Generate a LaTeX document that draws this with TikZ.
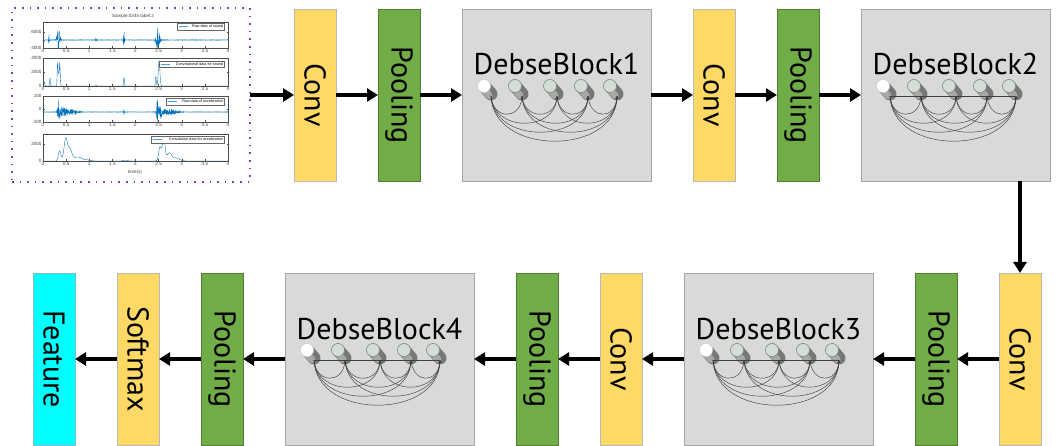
\documentclass[tikz,border=0pt]{standalone}
\usepackage{fontspec}
\setmainfont{PT Sans}
\newfontfamily\plotfont{Liberation Sans}
\usetikzlibrary{arrows.meta,calc}

\definecolor{convyellow}{HTML}{FFD966}
\definecolor{convedge}{HTML}{B8B8B8}
\definecolor{poolgreen}{HTML}{70AD47}
\definecolor{pooledge}{HTML}{507E32}
\definecolor{blockgray}{HTML}{D9D9D9}
\definecolor{blockedge}{HTML}{A6A6A6}
\definecolor{featcyan}{HTML}{00FFFF}
\definecolor{featedge}{HTML}{7FBFBF}
\definecolor{mblue}{HTML}{0072BD}
\definecolor{legblue}{HTML}{4F9FD8}
\definecolor{dotpurple}{HTML}{7F3FBF}
\definecolor{cylbody}{HTML}{777777}
\definecolor{cylshine}{HTML}{A8A8A8}
\definecolor{facegray}{HTML}{D6DCD6}
\definecolor{faceedge}{HTML}{6A8A78}

% bounded gaussian bump: gb(t, centre, width)
\pgfmathdeclarefunction{gb}{3}{%
  \pgfmathparse{exp(0-pow(min(abs((#1-(#2))/(#3)),5),2))}%
}
% envelopes of the four traces (in pixels)
\pgfmathdeclarefunction{sndraw}{1}{%
  \pgfmathparse{0.25+10*gb(#1,0.01,0.012)+9*gb(#1,0.13,0.01)+13*gb(#1,0.335,0.035)+2.5*gb(#1,1.14,0.012)+9*gb(#1,1.75,0.015)+13*gb(#1,2.49,0.045)}%
}
\pgfmathdeclarefunction{sndconv}{1}{%
  \pgfmathparse{4*gb(#1,0.03,0.012)+8*gb(#1,0.15,0.012)+21*gb(#1,0.315,0.012)+21*gb(#1,0.365,0.012)+12*gb(#1,0.34,0.02)+1*gb(#1,1.15,0.01)+9*gb(#1,1.75,0.012)+10*gb(#1,2.44,0.012)+25*gb(#1,2.51,0.025)}%
}
\pgfmathdeclarefunction{accraw}{1}{%
  \pgfmathparse{0.2+1.5*gb(#1,0.0,0.01)+11*gb(#1,0.34,0.025)+5*gb(#1,0.42,0.08)+2*gb(#1,0.6,0.15)+3*gb(#1,1.75,0.01)+14*gb(#1,2.47,0.02)+6*gb(#1,2.55,0.07)+2.5*gb(#1,2.75,0.15)}%
}
\pgfmathdeclarefunction{accconv}{1}{%
  \pgfmathparse{10*gb(#1,0.36,0.04)+22*gb(#1,0.49,0.05)+12*gb(#1,0.58,0.06)+4*gb(#1,0.75,0.12)+1*gb(#1,0.95,0.1)+0.8*gb(#1,1.78,0.06)+14*gb(#1,2.53,0.04)+23*gb(#1,2.61,0.04)+8*gb(#1,2.73,0.07)+3*gb(#1,2.88,0.1)}%
}

% cylinders and dense links inside a dense block
\newcommand\denseunit[2]{%
  \foreach \k/\dx in {1/22,2/53,3/88,4/119,5/148}{%
    \coordinate (#1-c\k) at ($(#1.north west)+(\dx,77)$);
    \coordinate (#1-e\k) at ($(#1-c\k)+(7,10)$);
  }
  \foreach \k in {1,...,5}{%
    \draw[cylbodyline] (#1-c\k) -- ++(7,8);
    \draw[cylshineline] ($(#1-c\k)+(-1.9,1.6)$) -- ++(7,8);
  }
  \draw[cylface, fill=white, draw=white!85!black] (#1-c1) circle[radius=6.5pt];
  \foreach \k in {2,...,5}{%
    \draw[cylface, fill=facegray] (#1-c\k) circle[radius=6.5pt];
  }
  \ifnum#2=1 \draw[dlinkline] (#1-e1) -- (#1-e5);\fi
  \foreach \i/\j in {1/2,1/3,1/4,1/5,2/3,2/4,2/5,3/4,3/5,4/5}{%
    \pgfmathsetmacro\h{12+12*(\j-\i)}
    \draw[dlink] (#1-e\i) .. controls +(2,\h) and +(-2,\h) .. (#1-e\j);
  }
}

\begin{document}
\begin{tikzpicture}[x=1pt, y=-1pt,
  labelfont/.style={font=\fontsize{30}{32}\selectfont},
  vbox/.style={draw, rotate=-90, minimum width=172pt, minimum height=42pt,
    inner sep=0pt, outer sep=0pt, line width=0.6pt, labelfont},
  convbox/.style={vbox, fill=convyellow, draw=convedge},
  poolbox/.style={vbox, fill=poolgreen, draw=pooledge},
  featbox/.style={vbox, fill=featcyan, draw=featedge},
  dbbox/.style={draw=blockedge, fill=blockgray, minimum width=189pt,
    minimum height=172pt, inner sep=0pt, outer sep=0pt, line width=0.6pt},
  dbtitle/.style={anchor=base, inner sep=0pt, labelfont},
  flow/.style={line width=4pt, -{Triangle[length=11pt,width=13pt]}},
  cylbodyline/.style={line width=13pt, line cap=round, draw=cylbody},
  cylshineline/.style={line width=7pt, line cap=round, draw=cylshine},
  cylface/.style={line width=0.5pt, draw=faceedge},
  dlinkline/.style={line width=0.45pt, draw=black!75},
  dlink/.style={dlinkline, -{Stealth[length=3pt,width=2.6pt]}},
  axisline/.style={line width=0.35pt, draw=black!70},
  ticklab/.style={inner sep=0.3pt, font=\plotfont\fontsize{4.6}{5}\selectfont, text=black!75},
  legbox/.style={draw=black!60, fill=white, line width=0.3pt},
  legtext/.style={anchor=east, inner sep=0.4pt, font=\plotfont\fontsize{3.7}{4}\selectfont},
  trace/.style={draw=mblue, line width=0.35pt}
]
\useasboundingbox (0,0) rectangle (1057,446);

% ---------- signal panel ----------
\node[draw=dotpurple, line width=1.6pt, dash pattern=on 1.6pt off 6pt,
      minimum width=238pt, minimum height=174pt, inner sep=0pt, outer sep=0pt] (sig) at (131,95) {};

\node[ticklab] (ttl) at (133,16.5) {Sample:0345 label:2};

\pgfmathsetseed{345}
% raw sound
\begin{scope}[shift={(43,40)}, x=46.25pt, y=1pt]
  \clip (0,-8) rectangle (4,18);
  \draw[trace] plot[domain=0:4, samples=1200] (\x, {sndraw(\x)*rand});
\end{scope}
% convolutional sound
\begin{scope}[shift={(43,86)}, x=46.25pt, y=1pt]
  \clip (0,0) rectangle (4,28);
  \draw[trace] plot[domain=0:4, samples=500] (\x, {sndconv(\x)*(1+0.08*rand)});
\end{scope}
% raw acceleration
\begin{scope}[shift={(43,112)}, x=46.25pt, y=1pt]
  \clip (0,-10) rectangle (4,16);
  \draw[trace] plot[domain=0:4, samples=1200] (\x, {accraw(\x)*rand});
\end{scope}
% convolutional acceleration
\begin{scope}[shift={(43,161)}, x=46.25pt, y=1pt]
  \clip (0,-1) rectangle (4,27);
  \draw[trace] plot[domain=0:4, samples=400] (\x, {accconv(\x)});
\end{scope}

% axes, ticks and tick labels
\foreach \top/\bot in {22/48,58/86,96/122,134/161}{
  \draw[axisline] (43,\top) rectangle (228,\bot);
  \foreach \i/\lab in {0/0,1/0.5,2/1,3/1.5,4/2,5/2.5,6/3,7/3.5,8/4}{
    \draw[axisline] (43+23.125*\i,\top) -- ++(0,1.5);
    \draw[axisline] (43+23.125*\i,\bot) -- ++(0,-1.5);
    \node[ticklab, anchor=north] at (43+23.125*\i,\bot+0.6) {\lab};
  }
}
\foreach \y/\lab in {32/6000,48/4000,58/4000,72/2000,86/0,96/100,109/0,122/-100,144/2000,161/0}{
  \draw[axisline] (43,\y) -- ++(1.5,0);
  \draw[axisline] (228,\y) -- ++(-1.5,0);
  \node[ticklab, anchor=east] at (42,\y) {\lab};
}
\node[ticklab] (xl) at (135,172) {time(s)};

% legends
\foreach \x/\ya/\yb/\txt in {177/23/30/Raw data of sound,
    159/61/67/Convolutional data for sound,
    166/98/105/Raw data of acceleration,
    151/136/143/Convolution data for acceleration}{
  \draw[legbox] (\x,\ya) rectangle (224,\yb);
  \draw[draw=legblue, line width=0.5pt] (\x+1.5,{(\ya+\yb)/2}) -- ++(9,0);
  \node[legtext] at (223.6,{(\ya+\yb)/2}) {\txt};
}

% ---------- top row ----------
\node[convbox] (conv1) at (315,95) {Conv};
\node[poolbox] (pool1) at (399,95) {Pooling};
\node[dbbox]   (db1)   at (556.5,95) {};
\node[convbox] (conv2) at (714,95) {Conv};
\node[poolbox] (pool2) at (798,95) {Pooling};
\node[dbbox]   (db2)   at (955.5,95) {};

% ---------- bottom row ----------
\node[convbox] (conv3) at (1020,359) {Conv};
\node[poolbox] (pool3) at (936,359) {Pooling};
\node[dbbox]   (db3)   at (778.5,359) {};
\node[convbox] (conv4) at (621,359) {Conv};
\node[poolbox] (pool4) at (537,359) {Pooling};
\node[dbbox]   (db4)   at (379.5,359) {};
\node[poolbox] (pool5) at (222,359) {Pooling};
\node[convbox] (soft)  at (138,359) {Softmax};
\node[featbox] (feat)  at (54,359) {Feature};

% dense block titles and contents
\node[dbtitle] (db1t) at ([yshift=-66pt]db1.north) {DebseBlock1};
\node[dbtitle] (db2t) at ([yshift=-66pt]db2.north) {DebseBlock2};
\node[dbtitle] (db3t) at ([yshift=-66pt]db3.north) {DebseBlock3};
\node[dbtitle] (db4t) at ([yshift=-66pt]db4.north) {DebseBlock4};
\denseunit{db1}{0}
\denseunit{db2}{1}
\denseunit{db3}{1}
\denseunit{db4}{1}

% ---------- data flow ----------
\draw[flow] (sig) -- (conv1);
\draw[flow] (conv1) -- (pool1);
\draw[flow] (pool1) -- (db1);
\draw[flow] (db1) -- (conv2);
\draw[flow] (conv2) -- (pool2);
\draw[flow] (pool2) -- (db2);
\draw[flow] (conv3 |- db2.south) -- (conv3);
\draw[flow] (conv3) -- (pool3);
\draw[flow] (pool3) -- (db3);
\draw[flow] (db3) -- (conv4);
\draw[flow] (conv4) -- (pool4);
\draw[flow] (pool4) -- (db4);
\draw[flow] (db4) -- (pool5);
\draw[flow] (pool5) -- (soft);
\draw[flow] (soft) -- (feat);
\end{tikzpicture}
\end{document}
